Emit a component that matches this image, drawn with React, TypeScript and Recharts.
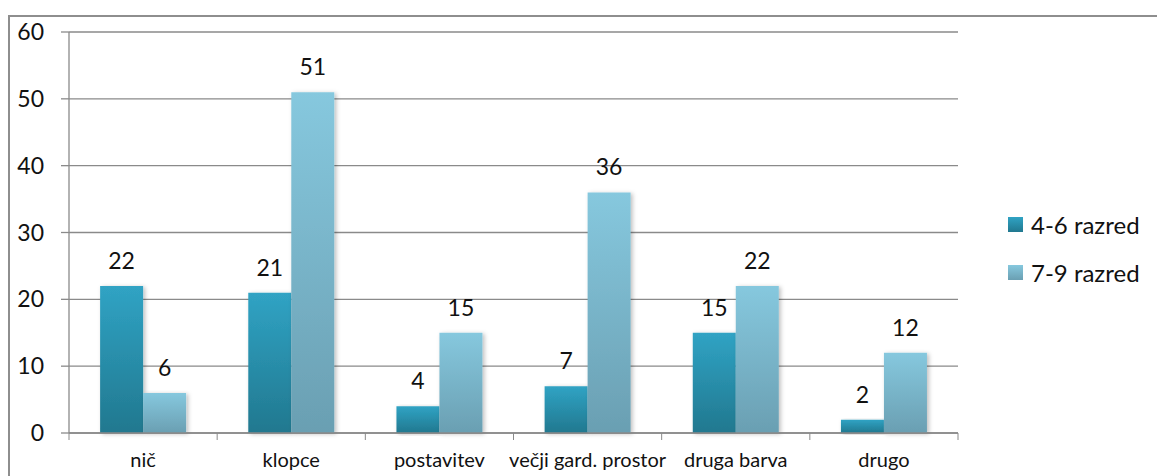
import React from "react";
import {
  BarChart,
  Bar,
  XAxis,
  YAxis,
  CartesianGrid,
  LabelList,
} from "recharts";

const categories = [
  "nič",
  "klopce",
  "postavitev",
  "večji gard. prostor",
  "druga barva",
  "drugo",
];
const grade46 = [22, 21, 4, 7, 15, 2];
const grade79 = [6, 51, 15, 36, 22, 12];
const yTicks = [0, 10, 20, 30, 40, 50, 60];
const seriesNames = ["4-6 razred", "7-9 razred"];

const data = categories.map((c, i) => ({
  name: c,
  a: grade46[i],
  b: grade79[i],
}));

const W = 1157;
const H = 476;
const LEFT = 69;
const RIGHT = 199;
const FONT = "Lato, 'Open Sans', sans-serif";
const AXIS = "#8a8a8a";
const band = (W - LEFT - RIGHT) / categories.length;

const CatTick = (props: any) => {
  const { x, y, payload, index } = props;
  return (
    <g>
      <line x1={x - band / 2} x2={x - band / 2} y1={y - 8} y2={y - 1} stroke={AXIS} />
      {index === categories.length - 1 && (
        <line x1={x + band / 2} x2={x + band / 2} y1={y - 8} y2={y - 1} stroke={AXIS} />
      )}
      <text x={x} y={y + 26} textAnchor="middle" fontSize={20} fontFamily={FONT} fill="#111">
        {payload.value}
      </text>
    </g>
  );
};

const swatch = [
  "linear-gradient(#30a3c4, #21788f)",
  "linear-gradient(#86c8de, #6a9fb2)",
];

export default function App() {
  return (
    <div style={{ position: "fixed", left: 0, top: 0, width: W, height: H, background: "#fff" }}>
      <div
        style={{
          position: "absolute",
          left: 8,
          top: 15,
          width: W,
          height: H,
          borderLeft: "2px solid #8e8e8e",
          borderTop: "2px solid #8e8e8e",
        }}
      />
      <div style={{ position: "absolute", left: 0, top: 0 }}>
        <BarChart
          width={W}
          height={H}
          data={data}
          margin={{ top: 32, right: RIGHT, left: 0, bottom: 0 }}
          barCategoryGap="21%"
          barGap={0}
        >
          <defs>
            <linearGradient id="gA" x1="0" y1="0" x2="0" y2="1">
              <stop offset="0%" stopColor="#30a3c4" />
              <stop offset="100%" stopColor="#21788f" />
            </linearGradient>
            <linearGradient id="gB" x1="0" y1="0" x2="0" y2="1">
              <stop offset="0%" stopColor="#86c8de" />
              <stop offset="100%" stopColor="#6a9fb2" />
            </linearGradient>
            <filter id="sh" x="-20%" y="-5%" width="140%" height="115%">
              <feDropShadow dx="2" dy="1" stdDeviation="2" floodColor="#000" floodOpacity="0.25" />
            </filter>
          </defs>
          <CartesianGrid vertical={false} stroke={AXIS} strokeWidth={1.3} />
          <XAxis
            dataKey="name"
            height={H - 433}
            axisLine={{ stroke: AXIS, strokeWidth: 1.3 }}
            tickLine={false}
            tick={<CatTick />}
            interval={0}
          />
          <YAxis
            width={LEFT}
            domain={[0, 60]}
            ticks={yTicks}
            interval={0}
            axisLine={{ stroke: AXIS, strokeWidth: 1.3 }}
            tickLine={{ stroke: AXIS, strokeWidth: 1.3 }}
            tickSize={8}
            tickMargin={17}
            tick={{ fontSize: 23, fontFamily: FONT, fill: "#111" }}
          />
          <Bar dataKey="a" name={seriesNames[0]} fill="url(#gA)" filter="url(#sh)" isAnimationActive={false}>
            <LabelList dataKey="a" position="top" offset={17} fontSize={23} fontFamily={FONT} fill="#111" />
          </Bar>
          <Bar dataKey="b" name={seriesNames[1]} fill="url(#gB)" filter="url(#sh)" isAnimationActive={false}>
            <LabelList dataKey="b" position="top" offset={17} fontSize={23} fontFamily={FONT} fill="#111" />
          </Bar>
        </BarChart>
      </div>
      <div style={{ position: "absolute", left: 1008, top: 200, fontFamily: FONT, fontSize: 24, color: "#111" }}>
        {seriesNames.map((n, i) => (
          <div key={n} style={{ display: "flex", alignItems: "center", height: 48 }}>
            <span
              style={{
                display: "inline-block",
                width: 15,
                height: 15,
                marginRight: 8,
                background: swatch[i],
              }}
            />
            {n}
          </div>
        ))}
      </div>
    </div>
  );
}
